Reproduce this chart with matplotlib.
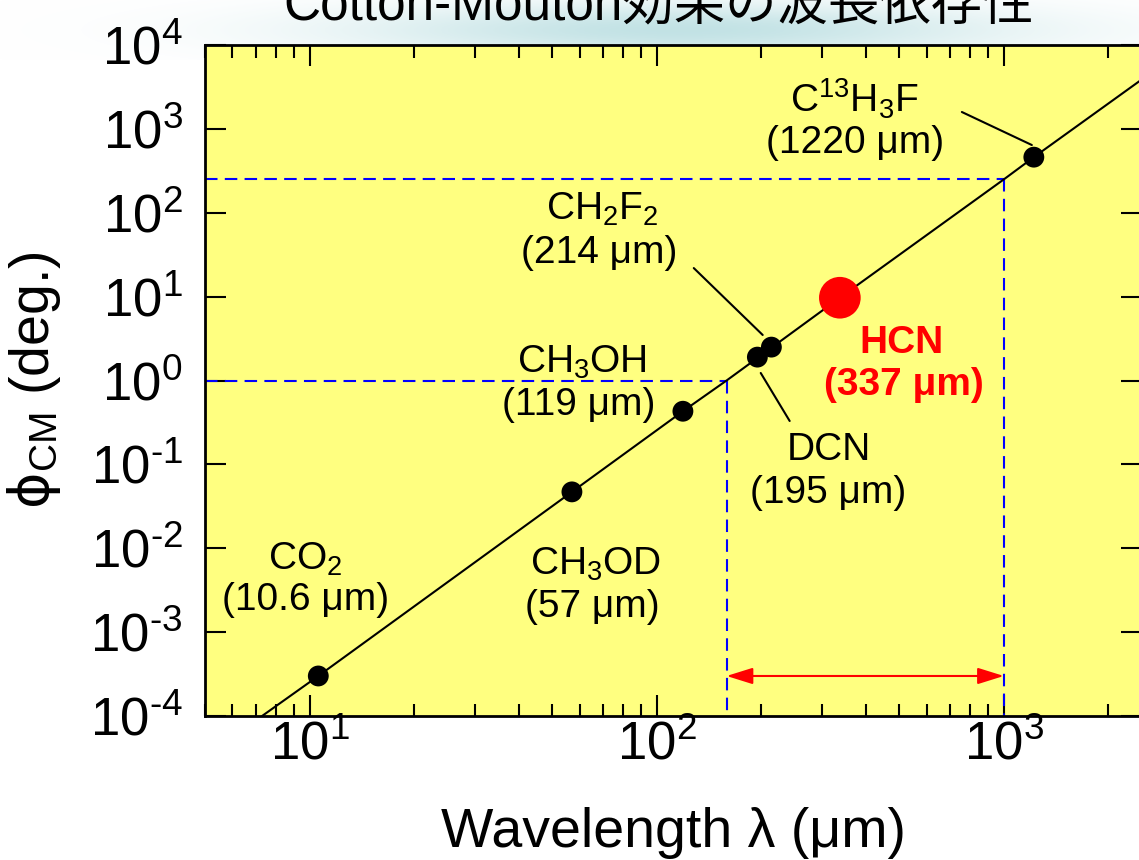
import numpy as np
import matplotlib
matplotlib.use("Agg")
import matplotlib.pyplot as plt
from matplotlib.ticker import FixedLocator, LogLocator, NullLocator, NullFormatter, FuncFormatter

plt.rcParams["font.family"] = ["Liberation Sans", "DejaVu Sans", "Noto Sans CJK JP"]
plt.rcParams["mathtext.fontset"] = "custom"
plt.rcParams["mathtext.rm"] = "Liberation Sans"
plt.rcParams["mathtext.it"] = "Liberation Sans:italic"
plt.rcParams["mathtext.bf"] = "Liberation Sans:bold"
plt.rcParams["mathtext.sf"] = "DejaVu Sans"

# values
lasers = ["CO2", "CH3OD", "CH3OH", "DCN", "CH2F2", "HCN", "C13H3F"]
wavelength = [10.6, 57, 119, 195, 214, 337, 1220]      # um
phi_cm = [3.0e-4, 0.047, 0.43, 1.9, 2.5, 9.7, 460]     # deg.

# guide curve (phi ~ lambda^3)
curve_lam = [7.3, 10.6, 57, 119, 159, 337, 1000, 1220, 2500]
curve_phi = [1.0e-4, 3.0e-4, 0.047, 0.43, 1.0, 9.7, 250, 460, 3900]

# usable range: 1 deg .. ~250 deg
band_lam = [159, 1000]
band_phi = [1.0, 250]
arrow_phi = 3.0e-4

fig = plt.figure(figsize=(11.39, 8.6), dpi=100)

# light glow behind the title (mostly cut off at top)
glow = fig.add_axes([0, 1 - 60 / 860, 1, 60 / 860], zorder=-1)
gx, gy = np.meshgrid(np.linspace(0, 1139, 600), np.linspace(0, 60, 60))
alpha = np.exp(-((gx - 680) / 330) ** 2 - ((gy - 30) / 28) ** 2)
img = np.zeros(gx.shape + (4,))
img[..., 0], img[..., 1], img[..., 2] = 0.72, 0.87, 0.88
img[..., 3] = 0.85 * alpha
glow.imshow(img, extent=(0, 1139, 60, 0), aspect="auto")
glow.set_axis_off()

fig.text(659 / 1139, 1 - 19 / 860, "Cotton-Mouton効果の波長依存性",
         ha="center", va="baseline", fontsize=37,
         family=["Liberation Sans", "Noto Sans CJK JP"])

ax = fig.add_axes([205 / 1139, 144 / 860, 937 / 1139, 671 / 860])
ax.set_facecolor("#ffff80")
ax.set_xscale("log")
ax.set_yscale("log")
ax.set_xlim(5, 2500)
ax.set_ylim(1e-4, 1e4)

# dashed guides
dash = (0, (6, 3.5))
for lam, phi in zip(band_lam, band_phi):
    ax.plot([ax.get_xlim()[0], lam], [phi, phi], color="blue", lw=1.5, ls=dash, zorder=2)
    ax.plot([lam, lam], [phi, ax.get_ylim()[0]], color="blue", lw=1.5, ls=dash, zorder=2)

ax.plot(curve_lam, curve_phi, color="black", lw=1.5, zorder=3)

colors = ["red" if n == "HCN" else "black" for n in lasers]
sizes = [900 if n == "HCN" else 225 for n in lasers]
ax.scatter(wavelength, phi_cm, s=sizes, c=colors, edgecolors="none", zorder=4)

ax.annotate("", xy=(band_lam[1], arrow_phi), xytext=(band_lam[0], arrow_phi),
            arrowprops=dict(arrowstyle="<|-|>,head_length=0.8,head_width=0.25",
                            color="red", lw=1.5, mutation_scale=20,
                            shrinkA=0, shrinkB=0))

# labels
fs = 28
def label(x, y, s, **kw):
    ax.text(x, y, s, ha="center", va="baseline", fontsize=fs, **kw)

label(372, 1546, r"C$^{13}$H$_3$F")
label(372, 516, "(1220 μm)")
label(69.9, 81.9, r"CH$_2$F$_2$")
label(68.1, 25.2, "(214 μm)")
label(60.8, 1.229, r"CH$_3$OH")
label(59.6, 0.388, "(119 μm)")
label(508, 2.13, "HCN", color="red", fontweight="bold")
label(515, 0.672, "(337 μm)", color="red", fontweight="bold")
label(313, 0.1127, "DCN")
label(311, 0.0346, "(195 μm)")
label(66.7, 4.80e-3, r"CH$_3$OD")
label(65.4, 1.515e-3, "(57 μm)")
label(9.74, 5.51e-3, r"CO$_2$")
label(9.74, 1.84e-3, "(10.6 μm)")

# leader lines
lead = dict(arrowstyle="-", color="black", lw=1.5, shrinkA=0, shrinkB=0)
ax.annotate("", xy=(1204, 642), xytext=(757, 1589), arrowprops=lead)
ax.annotate("", xy=(202, 3.49), xytext=(127.9, 21.9), arrowprops=lead)
ax.annotate("", xy=(241.6, 0.329), xytext=(199.4, 1.229), arrowprops=lead)


def pow_label(v, pos):
    e = int(round(np.log10(v)))
    if e < 0:
        return r"$10^{\text{-}%d}$" % (-e)
    return r"$10^{%d}$" % e


# ticks
fmt = FuncFormatter(pow_label)
ax.xaxis.set_major_locator(FixedLocator([10, 100, 1000]))
ax.xaxis.set_minor_locator(LogLocator(base=10, subs=np.arange(2, 10)))
ax.xaxis.set_minor_formatter(NullFormatter())
ax.yaxis.set_major_locator(FixedLocator(10.0 ** np.arange(-4, 5)))
ax.yaxis.set_minor_locator(NullLocator())
ax.xaxis.set_major_formatter(fmt)
ax.yaxis.set_major_formatter(fmt)
ax.tick_params(which="both", direction="in", top=True, right=True, width=1.5)
ax.tick_params(which="major", length=15, labelsize=38)
ax.tick_params(which="minor", length=9)
ax.tick_params(axis="x", pad=3)
ax.tick_params(axis="y", pad=16)
for sp in ax.spines.values():
    sp.set_linewidth(2)

ax.set_xlabel("Wavelength λ (μm)", fontsize=40)
ax.xaxis.set_label_coords(0.5, -0.1356)
ax.set_ylabel(r"$\mathsf{\phi}_{\mathrm{CM}}$ (deg.)", fontsize=40)
ax.yaxis.set_label_coords(-0.1515, 0.5)

fig.savefig("out.png", dpi=100)
